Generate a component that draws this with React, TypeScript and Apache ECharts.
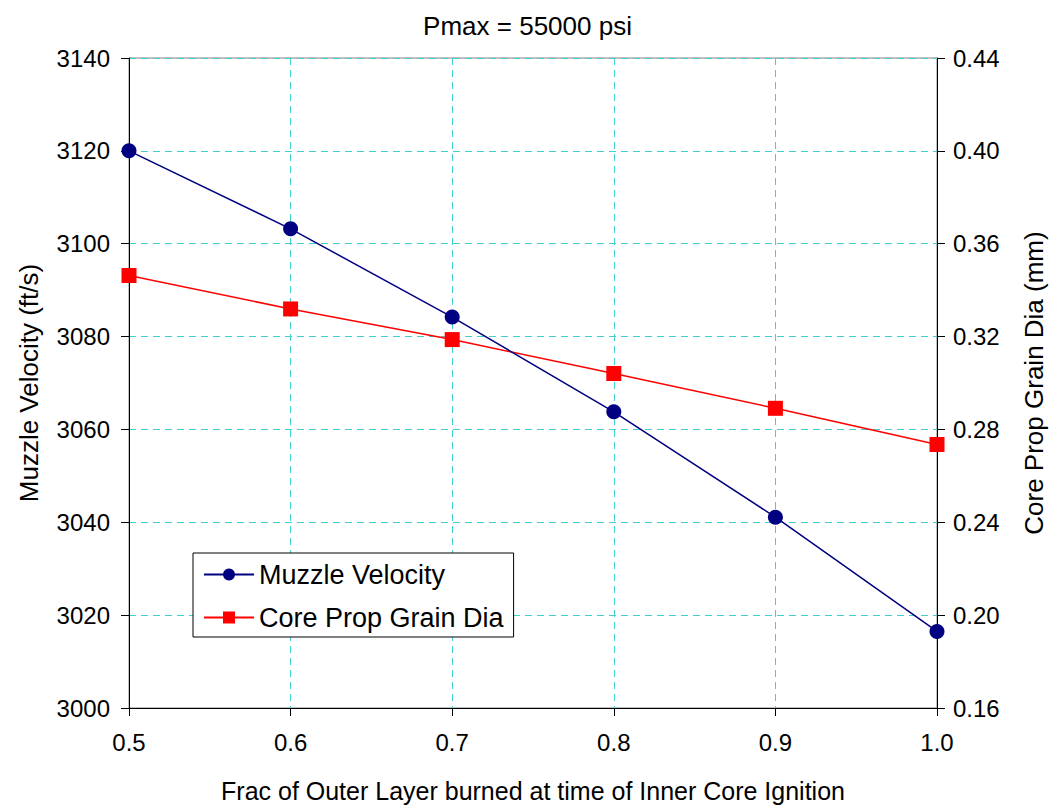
import React, { useEffect, useRef } from "react";
import * as echarts from "echarts";

const xValues = [0.5, 0.6, 0.7, 0.8, 0.9, 1.0];
const muzzleVelocity = [3120, 3103.2, 3084.2, 3063.8, 3041.1, 3016.5];
const coreGrainDia = [0.3463, 0.3319, 0.3187, 0.3041, 0.2891, 0.2735];

const FONT = "Liberation Sans, Arial, sans-serif";
const GRID_COLOR = "#40d0d0";

export default function App() {
  const ref = useRef<HTMLDivElement>(null);
  useEffect(() => {
    document.body.style.margin = "0";
    const chart = echarts.init(ref.current!, null, { renderer: "svg" });
    chart.setOption({
      animation: false,
      backgroundColor: "#ffffff",
      textStyle: { fontFamily: FONT },
      title: {
        text: "Pmax = 55000 psi",
        left: "center",
        top: 8,
        textStyle: { fontFamily: FONT, fontSize: 26, fontWeight: "normal", color: "#000" },
      },
      grid: {
        left: 129,
        right: 117,
        top: 58,
        bottom: 96,
        show: true,
        borderColor: "#808080",
        borderWidth: 1,
        backgroundColor: "transparent",
      },
      legend: {
        orient: "vertical",
        left: 193,
        top: 553,
        backgroundColor: "#fff",
        borderColor: "#000",
        borderWidth: 1,
        padding: [8, 10, 6, 10],
        itemGap: 16,
        itemWidth: 50,
        itemHeight: 15,
        textStyle: { fontFamily: FONT, fontSize: 27, color: "#000" },
        data: ["Muzzle Velocity", "Core Prop Grain Dia"],
      },
      xAxis: {
        type: "value",
        min: 0.5,
        max: 1.0,
        interval: 0.1,
        name: "Frac of Outer Layer burned at time of Inner Core Ignition",
        nameLocation: "middle",
        nameGap: 70,
        nameTextStyle: { fontFamily: FONT, fontSize: 25, color: "#000" },
        axisLine: { show: true, onZero: false, lineStyle: { color: "#000", width: 1 } },
        axisTick: { show: true, length: 8, lineStyle: { color: "#000" } },
        axisLabel: {
          margin: 22,
          fontFamily: FONT,
          fontSize: 24,
          color: "#000",
          formatter: (v: number) => v.toFixed(1),
        },
        splitLine: { show: true, lineStyle: { color: GRID_COLOR, type: [7, 5], width: 1 } },
      },
      yAxis: [
        {
          type: "value",
          min: 3000,
          max: 3140,
          interval: 20,
          name: "Muzzle Velocity (ft/s)",
          nameLocation: "middle",
          nameGap: 87,
          nameTextStyle: { fontFamily: FONT, fontSize: 26, color: "#000" },
          axisLine: { show: true, lineStyle: { color: "#000", width: 1 } },
          axisTick: { show: true, length: 8, lineStyle: { color: "#000" } },
          axisLabel: {
            margin: 19,
            fontFamily: FONT,
            fontSize: 24,
            color: "#000",
            formatter: (v: number) => String(Math.round(v)),
          },
          splitLine: { show: true, lineStyle: { color: GRID_COLOR, type: [7, 5], width: 1 } },
        },
        {
          type: "value",
          min: 0.16,
          max: 0.44,
          interval: 0.04,
          position: "right",
          name: "Core Prop Grain Dia (mm)",
          nameLocation: "middle",
          nameGap: 84,
          nameRotate: 90,
          nameTextStyle: { fontFamily: FONT, fontSize: 26, color: "#000" },
          axisLine: { show: true, lineStyle: { color: "#000", width: 1 } },
          axisTick: { show: true, length: 8, inside: false, lineStyle: { color: "#000" } },
          axisLabel: {
            margin: 16,
            fontFamily: FONT,
            fontSize: 24,
            color: "#000",
            formatter: (v: number) => v.toFixed(2),
          },
          splitLine: { show: false },
        },
      ],
      series: [
        {
          name: "Muzzle Velocity",
          type: "line",
          yAxisIndex: 0,
          data: xValues.map((x, i) => [x, muzzleVelocity[i]]),
          symbol: "circle",
          symbolSize: 15,
          lineStyle: { color: "#000080", width: 1.5 },
          itemStyle: { color: "#000080" },
          z: 3,
        },
        {
          name: "Core Prop Grain Dia",
          type: "line",
          yAxisIndex: 1,
          data: xValues.map((x, i) => [x, coreGrainDia[i]]),
          symbol: "rect",
          symbolSize: 15,
          lineStyle: { color: "#ff0000", width: 1.5 },
          itemStyle: { color: "#ff0000" },
          z: 2,
        },
      ],
    });
    return () => chart.dispose();
  }, []);
  return <div ref={ref} style={{ width: 1055, height: 808 }} />;
}
